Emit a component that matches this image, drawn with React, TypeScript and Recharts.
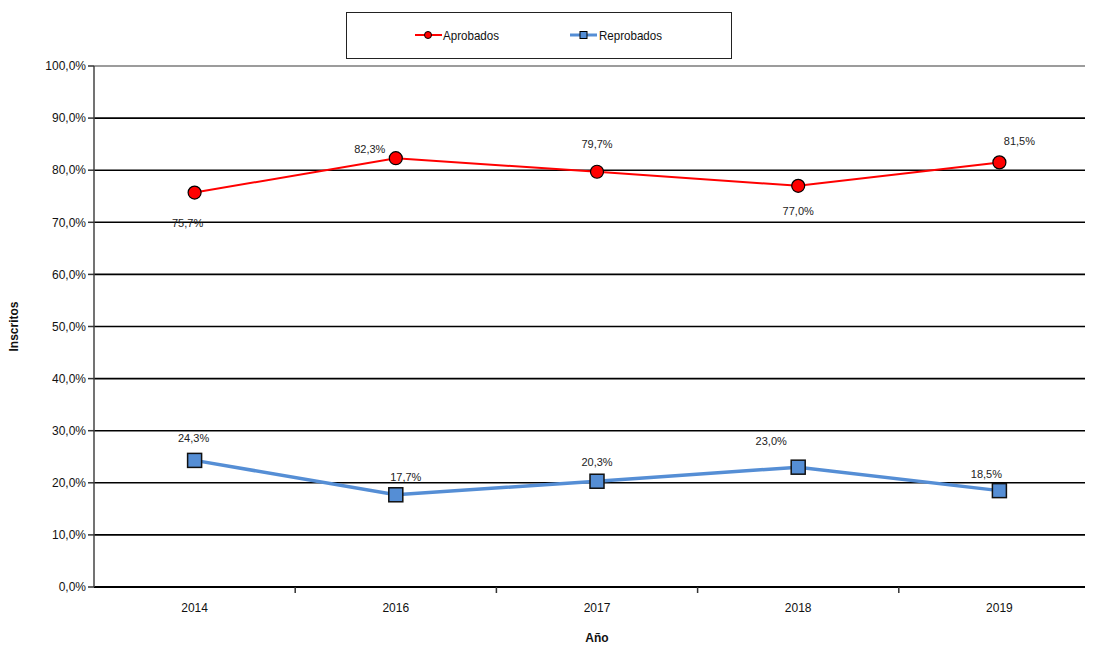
import React from 'react';
import { LineChart, Line, XAxis, YAxis, CartesianGrid, LabelList, ReferenceLine } from 'recharts';

const years = ['2014', '2016', '2017', '2018', '2019'];
const aprobados = [75.7, 82.3, 79.7, 77.0, 81.5];
const reprobados = [24.3, 17.7, 20.3, 23.0, 18.5];
const yTicks = [0, 10, 20, 30, 40, 50, 60, 70, 80, 90, 100];

const data = years.map((y, i) => ({ year: y, aprobados: aprobados[i], reprobados: reprobados[i] }));

const aprobOffsets = [[-7, 30], [-26, -9], [0, -28], [0, 25], [20, -21]];
const reprobOffsets = [[-1, -22], [10, -18], [0, -19], [-27, -26], [-13, -17]];

const FONT = '"Liberation Sans", Arial, sans-serif';
const fmt = (v: number) => `${v.toFixed(1).replace('.', ',')}%`;

const makeLabel = (offsets: number[][]) => (props: any) => {
  const { x, y, value, index } = props;
  const o = offsets[index] || [0, -15];
  return (
    <text x={x + o[0]} y={y + o[1]} textAnchor="middle" dominantBaseline="central" fontSize={11} fill="#222" fontFamily={FONT}>
      {fmt(value)}
    </text>
  );
};

const XTick = (props: any) => {
  const { x, y, payload, index } = props;
  const half = payload && payload.offset ? payload.offset : 100.6;
  return (
    <g>
      <text x={x} y={y + 17} textAnchor="middle" fontSize={12} fill="#111" fontFamily={FONT}>{payload.value}</text>
      {index < years.length - 1 && <line x1={x + half} x2={x + half} y1={y - 8} y2={y - 2} stroke="#333" strokeWidth={1.5} />}
    </g>
  );
};

const LegendBox = () => (
  <div style={{ position: 'absolute', left: 338, top: 4, width: 386, height: 47, border: '1.5px solid #222', boxSizing: 'border-box', background: '#fff' }}>
    <svg width={383} height={44} style={{ position: 'absolute', left: 0, top: 0 }}>
      <line x1={68} x2={95} y1={22} y2={22} stroke="#ff0000" strokeWidth={2} />
      <circle cx={81} cy={22} r={3.5} fill="#ff0000" stroke="#000" strokeWidth={1} />
      <text x={96} y={26.5} fontSize={13} fill="#111" fontFamily={FONT} textLength={56} lengthAdjust="spacingAndGlyphs">Aprobados</text>
      <line x1={223} x2={250} y1={22} y2={22} stroke="#558ED5" strokeWidth={3} />
      <rect x={233} y={18.5} width={7} height={7} fill="#558ED5" stroke="#000" strokeWidth={1} />
      <text x={252} y={26.5} fontSize={13} fill="#111" fontFamily={FONT} textLength={63} lengthAdjust="spacingAndGlyphs">Reprobados</text>
    </svg>
  </div>
);

export default function App() {
  return (
    <div style={{ width: 1100, height: 638, position: 'relative' }}>
      <style>{'html,body{overflow:hidden;}'}</style>
      <LineChart width={1100} height={638} data={data} margin={{ top: 58, right: 8, bottom: 0, left: 0 }}>
        <CartesianGrid vertical={false} stroke="#000" strokeWidth={1.6} />
        <ReferenceLine y={100} stroke="#bbbbbb" strokeWidth={1.6} />
        <XAxis
          dataKey="year"
          scale="band"
          height={59}
          axisLine={{ stroke: '#000', strokeWidth: 2 }}
          tickLine={false}
          tick={<XTick />}
          interval={0}
          label={{ value: 'Año', position: 'insideBottom', offset: 4, fontSize: 12, fontWeight: 'bold', fill: '#111', fontFamily: FONT }}
        />
        <YAxis
          domain={[0, 100]}
          ticks={yTicks}
          width={86}
          tickFormatter={fmt}
          tick={{ fontSize: 12, fill: '#111', fontFamily: FONT }}
          tickSize={6}
          tickLine={{ stroke: '#333', strokeWidth: 1.5 }}
          axisLine={{ stroke: '#444', strokeWidth: 1.5 }}
          interval={0}
          label={{ value: 'Inscritos', angle: -90, position: 'insideLeft', offset: 0, dx: 6, fontSize: 12, fontWeight: 'bold', fill: '#111', fontFamily: FONT, style: { textAnchor: 'middle' } }}
        />
        <Line
          type="linear"
          dataKey="aprobados"
          name="Aprobados"
          stroke="#ff0000"
          strokeWidth={2}
          dot={{ r: 6.5, fill: '#ff0000', stroke: '#000', strokeWidth: 1.2 }}
          isAnimationActive={false}
        >
          <LabelList dataKey="aprobados" content={makeLabel(aprobOffsets)} />
        </Line>
        <Line
          type="linear"
          dataKey="reprobados"
          name="Reprobados"
          stroke="#558ED5"
          strokeWidth={3.5}
          dot={(p: any) => <rect key={p.index} x={p.cx - 7} y={p.cy - 7} width={14} height={14} fill="#558ED5" stroke="#111" strokeWidth={1.5} />}
          isAnimationActive={false}
        >
          <LabelList dataKey="reprobados" content={makeLabel(reprobOffsets)} />
        </Line>
      </LineChart>
      <LegendBox />
    </div>
  );
}
